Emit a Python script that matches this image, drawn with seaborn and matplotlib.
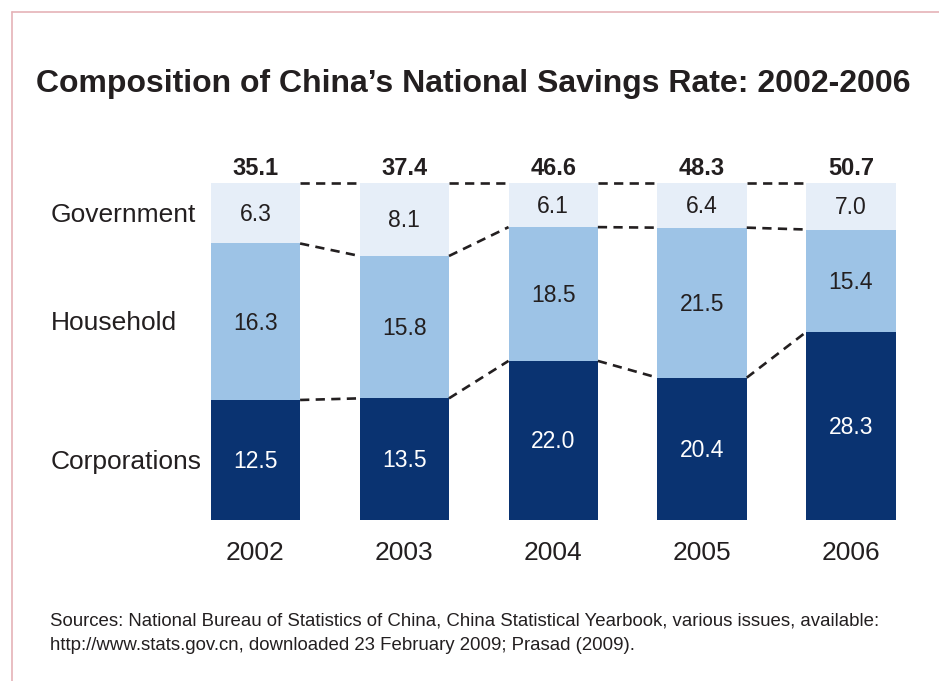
import matplotlib
matplotlib.use("Agg")
import matplotlib.pyplot as plt
import seaborn as sns
import pandas as pd
import numpy as np
from matplotlib.lines import Line2D

years = ["2002", "2003", "2004", "2005", "2006"]
corporations = [12.5, 13.5, 22.0, 20.4, 28.3]
household = [16.3, 15.8, 18.5, 21.5, 15.4]
government = [6.3, 8.1, 6.1, 6.4, 7.0]
totals = [35.1, 37.4, 46.6, 48.3, 50.7]
row_labels = ["Government", "Household", "Corporations"]

title = "Composition of China\u2019s National Savings Rate: 2002-2006"
source_lines = [
    "Sources: National Bureau of Statistics of China, China Statistical Yearbook, various issues, available:",
    "http://www.stats.gov.cn, downloaded 23 February 2009; Prasad (2009).",
]

C_GOV = "#E6EEF8"
C_HH = "#9DC3E6"
C_CORP = "#0A3371"
TXT = "#231F20"

sns.set_theme(style="white")
plt.rcParams["font.family"] = ["Liberation Sans", "DejaVu Sans"]

tot = np.array(totals)
corp_s = np.array(corporations) / tot * 100
hh_s = np.array(household) / tot * 100
gov_s = np.array(government) / tot * 100

df = pd.DataFrame({
    "year": years,
    "top": corp_s + hh_s + gov_s,
    "mid": corp_s + hh_s,
    "low": corp_s,
})

W, H = 939, 681
fig = plt.figure(figsize=(W / 100, H / 100), dpi=100)
ax = fig.add_axes([181 / W, 1 - 520 / H, (925.4 - 181) / W, 337 / H])

bw = 0.6
for col, c in [("top", C_GOV), ("mid", C_HH), ("low", C_CORP)]:
    sns.barplot(data=df, x="year", y=col, color=c, saturation=1, width=bw,
                linewidth=0, ax=ax, errorbar=None)

ax.set_xlim(-0.5, 4.5)
ax.set_ylim(0, 100)
ax.axis("off")

# dashed connectors
bounds = [df["top"].values, df["mid"].values, df["low"].values]
for b in bounds:
    for i in range(len(years) - 1):
        ax.plot([i + bw / 2, i + 1 - bw / 2], [b[i], b[i + 1]], color=TXT,
                lw=1.9, linestyle=(0, (3.5, 2.4)), clip_on=False)

# segment labels
for i in range(len(years)):
    ax.text(i, corp_s[i] / 2 - 0.4, f"{corporations[i]:.1f}", ha="center", va="center",
            color="white", fontsize=16.5)
    ax.text(i, corp_s[i] + hh_s[i] / 2 - 0.4, f"{household[i]:.1f}", ha="center",
            va="center", color=TXT, fontsize=16.5)
    ax.text(i, corp_s[i] + hh_s[i] + gov_s[i] / 2 - 0.4, f"{government[i]:.1f}",
            ha="center", va="center", color=TXT, fontsize=16.5)
    ax.text(i, 104.3, f"{totals[i]:.1f}", ha="center", va="center",
            color=TXT, fontsize=17, fontweight="bold")
    ax.text(i, -9.7, years[i], ha="center", va="center", color=TXT, fontsize=19)

# row labels aligned with first bar segments
ys = [corp_s[0] + hh_s[0] + gov_s[0] / 2, corp_s[0] + hh_s[0] / 2, corp_s[0] / 2]
tr = matplotlib.transforms.blended_transform_factory(fig.transFigure, ax.transData)
for lab, y in zip(row_labels, ys):
    ax.text(51 / W, y - 0.5, lab, transform=tr, ha="left", va="center",
            color=TXT, fontsize=19)

fig.text(36 / W, 1 - 84 / H, title, ha="left", va="center", color=TXT,
         fontsize=23, fontweight="bold")
fig.text(50 / W, 1 - 621 / H, source_lines[0], ha="left", va="center",
         color=TXT, fontsize=13.4)
fig.text(50 / W, 1 - 645 / H, source_lines[1], ha="left", va="center",
         color=TXT, fontsize=13.4)

# pink frame
fig.add_artist(Line2D([11.5 / W, 1], [1 - 11.5 / H, 1 - 11.5 / H], color="#E5B3B7", lw=1.2))
fig.add_artist(Line2D([11.5 / W, 11.5 / W], [0, 1 - 11.5 / H], color="#E5B3B7", lw=1.2))

fig.savefig("out.png", dpi=100)
